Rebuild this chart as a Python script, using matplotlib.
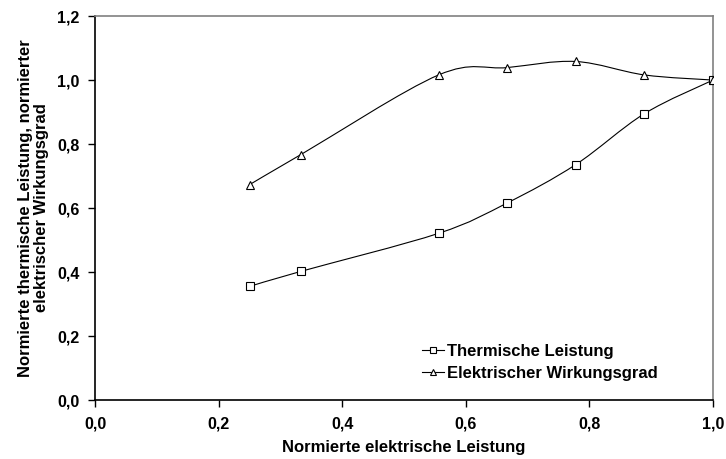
import numpy as np
import matplotlib
matplotlib.use('Agg')
from matplotlib import pyplot as plt
from matplotlib.path import Path
from matplotlib.patches import PathPatch
from matplotlib.ticker import FuncFormatter
from matplotlib.lines import Line2D

plt.rcParams['font.family'] = ['Liberation Sans', 'DejaVu Sans']
plt.rcParams['font.weight'] = 'bold'

# normierte elektrische Leistung
x_werte = [0.25, 0.333, 0.556, 0.667, 0.778, 0.889, 1.0]
thermisch = [0.355, 0.402, 0.521, 0.616, 0.736, 0.895, 1.0]
elektrisch = [0.673, 0.767, 1.016, 1.039, 1.058, 1.016, 1.0]


def smooth_path(xs, ys):
    # Excel-like smoothed line: Bezier segments through the points
    pts = np.column_stack([xs, ys])
    n = len(pts)
    verts = [pts[0]]
    codes = [Path.MOVETO]
    for i in range(n - 1):
        p0 = pts[i - 1] if i > 0 else pts[i]
        p1 = pts[i]
        p2 = pts[i + 1]
        p3 = pts[i + 2] if i + 2 < n else pts[i + 1]
        c1 = p1 + (p2 - p0) / 6.0
        c2 = p2 - (p3 - p1) / 6.0
        verts += [c1, c2, p2]
        codes += [Path.CURVE4] * 3
    return Path(verts, codes)


fig = plt.figure(figsize=(7.26, 4.59), dpi=100)
ax = fig.add_axes([0.1309, 0.1285, 0.8512, 0.8365])

for ys, mk in [(thermisch, 's'), (elektrisch, '^')]:
    ax.add_patch(PathPatch(smooth_path(x_werte, ys), facecolor='none',
                           edgecolor='black', lw=0.8, zorder=2))
    ax.plot(x_werte, ys, linestyle='none', marker=mk, markersize=6,
            markerfacecolor='white', markeredgecolor='black',
            markeredgewidth=0.8, zorder=3)

ax.set_xlim(0, 1.0)
ax.set_ylim(0, 1.2)
ax.set_xticks(np.arange(0, 1.01, 0.2))
ax.set_yticks(np.arange(0, 1.21, 0.2))
fmt = FuncFormatter(lambda v, p: ('%.1f' % v).replace('.', ','))
ax.xaxis.set_major_formatter(fmt)
ax.yaxis.set_major_formatter(fmt)
ax.tick_params(direction='out', length=5, width=1, labelsize=11.5)
ax.tick_params(axis='y', pad=6)
ax.tick_params(axis='x', pad=7)

for s in ['left', 'bottom']:
    ax.spines[s].set_linewidth(1.2)
    ax.spines[s].set_color('black')
for s in ['top', 'right']:
    ax.spines[s].set_linewidth(1.2)
    ax.spines[s].set_color('#808080')

ax.set_xlabel('Normierte elektrische Leistung', fontsize=12, fontweight='bold',
              labelpad=6)
ax.set_ylabel('Normierte thermische Leistung, normierter\nelektrischer Wirkungsgrad',
              fontsize=12, fontweight='bold', labelpad=6, linespacing=1.05)

handles = [Line2D([], [], color='black', lw=0.8, marker='s', markersize=5,
                  markerfacecolor='white', markeredgewidth=0.8),
           Line2D([], [], color='black', lw=0.8, marker='^', markersize=5,
                  markerfacecolor='white', markeredgewidth=0.8)]
ax.legend(handles, ['Thermische Leistung', 'Elektrischer Wirkungsgrad'],
          loc='lower right', bbox_to_anchor=(0.935, 0.01), frameon=False,
          handlelength=1.3, handletextpad=0.2, labelspacing=0.45,
          prop={'size': 12, 'weight': 'bold'})

plt.savefig('out.png', dpi=100)
